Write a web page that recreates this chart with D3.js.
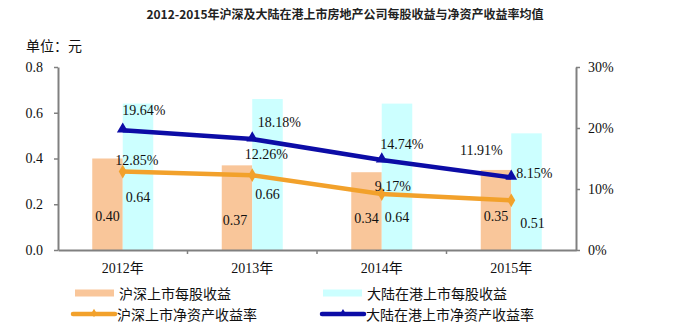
<!DOCTYPE html>
<html><head><meta charset="utf-8">
<script src="https://cdn.jsdelivr.net/npm/d3@7/dist/d3.min.js"></script>
<style>
html,body{margin:0;padding:0;background:#fff;}
svg{display:block;}
</style>
</head><body>
<svg id="chart" width="675" height="332"></svg>
<script>
// ---- data ----
const categories = ["2012年", "2013年", "2014年", "2015年"];
const hsEps = [0.40, 0.37, 0.34, 0.35];          // 沪深上市每股收益
const hkEps = [0.64, 0.66, 0.64, 0.51];          // 大陆在港上市每股收益
const hsRoe = [12.85, 12.26, 9.17, 8.15];        // 沪深上市净资产收益率 (%)
const hkRoe = [19.64, 18.18, 14.74, 11.91];      // 大陆在港上市净资产收益率 (%)
const leftTicks = [0, 0.2, 0.4, 0.6, 0.8];
const rightTicks = [0, 10, 20, 30];
const seriesNames = ["沪深上市每股收益", "大陆在港上市每股收益", "沪深上市净资产收益率", "大陆在港上市净资产收益率"];
const titleText = "2012-2015年沪深及大陆在港上市房地产公司每股收益与净资产收益率均值";
const unitText = "单位：元";

// ---- layout (label offsets, px) ----
const hkRoeLabelOff = [[21,-20],[27,-17],[20,-16],[-30,-27]];
const hsRoeLabelOff = [[14,-11],[14,-21],[11,-8],[23,-27]];
const hsEpsLabelOff = [[0,-34],[-2,-30],[0,-32],[0,-34]];
const hkEpsLabelOff = [[0,-53],[0,-56],[0,-33],[6,-27]];

const colors = {hsBar:"#F9C69A", hkBar:"#CCFFFF", hsLine:"#F2A12B", hkLine:"#0C0CA6", axis:"#808080"};
const serif = "'Liberation Serif','Times New Roman','Noto Sans CJK SC',serif";
const sans = "'Noto Sans CJK SC','Noto Sans',sans-serif";

const svg = d3.select("#chart");
const L = 58, R = 576, T = 67, B = 250;

const x = d3.scaleBand().domain(categories).range([L, R]).padding(0);
const yL = d3.scaleLinear().domain([0, 0.8]).range([B, T]);
const yR = d3.scaleLinear().domain([0, 30]).range([B, T]);
const barW = 30.5;
const cx = c => x(c) + x.bandwidth() / 2;

// title
svg.append("text").attr("x", 345).attr("y", 13).attr("text-anchor", "middle")
  .attr("dominant-baseline", "central").attr("font-family", sans).attr("font-weight", "bold")
  .attr("font-size", 12).attr("fill", "#222").text(titleText);
svg.append("text").attr("x", 26).attr("y", 45).attr("dominant-baseline", "central")
  .attr("font-family", sans).attr("font-size", 14).attr("fill", "#111").text(unitText);

// bars
svg.append("g").selectAll("rect").data(categories).join("rect")
  .attr("x", c => cx(c) - barW).attr("width", barW)
  .attr("y", (c, i) => yL(hsEps[i])).attr("height", (c, i) => B - yL(hsEps[i]))
  .attr("fill", colors.hsBar);
svg.append("g").selectAll("rect").data(categories).join("rect")
  .attr("x", c => cx(c)).attr("width", barW)
  .attr("y", (c, i) => yL(hkEps[i])).attr("height", (c, i) => B - yL(hkEps[i]))
  .attr("fill", colors.hkBar);

// axes
function styleAxis(g) {
  g.select(".domain").attr("stroke", colors.axis).attr("stroke-width", 2);
  g.selectAll(".tick line").attr("stroke", colors.axis).attr("stroke-width", 1.5);
  g.selectAll(".tick text").attr("font-family", serif).attr("font-size", 14).attr("fill", "#111");
}
svg.append("g").attr("transform", `translate(${L},0)`)
  .call(d3.axisLeft(yL).tickValues(leftTicks).tickFormat(d3.format(".1f")).tickSize(4).tickSizeOuter(0).tickPadding(11))
  .call(styleAxis);
svg.append("g").attr("transform", `translate(${R},0)`)
  .call(d3.axisRight(yR).tickValues(rightTicks).tickFormat(d => d + "%").tickSize(4).tickSizeOuter(0).tickPadding(8))
  .call(styleAxis);
const xg = svg.append("g").attr("transform", `translate(0,${B})`)
  .call(d3.axisBottom(x).tickSize(0).tickSizeOuter(0).tickPadding(10))
  .call(styleAxis);
xg.selectAll(".tick text").attr("dy", "0.9em");
// boundary ticks between categories
xg.selectAll("line.bound").data(categories.slice(1)).join("line").attr("class", "bound")
  .attr("x1", c => x(c)).attr("x2", c => x(c)).attr("y1", 0).attr("y2", 4)
  .attr("stroke", colors.axis).attr("stroke-width", 1.5);

// lines
const lineGen = (vals) => d3.line().x((d, i) => cx(categories[i])).y(d => yR(d))(vals);
svg.append("path").attr("d", lineGen(hsRoe)).attr("fill", "none").attr("stroke", colors.hsLine).attr("stroke-width", 4.5);
svg.append("path").attr("d", lineGen(hkRoe)).attr("fill", "none").attr("stroke", colors.hkLine).attr("stroke-width", 4.5);
const diamond = d3.symbol().type(d3.symbolDiamond2 || d3.symbolDiamond).size(50);
const tri = d3.symbol().type(d3.symbolTriangle).size(60);
svg.append("g").selectAll("path").data(hsRoe).join("path")
  .attr("transform", (d, i) => `translate(${cx(categories[i])},${yR(d)})`)
  .attr("d", d3.symbol().type(d3.symbolDiamond).size(55)).attr("fill", colors.hsLine);
svg.append("g").selectAll("path").data(hkRoe).join("path")
  .attr("transform", (d, i) => `translate(${cx(categories[i])},${yR(d) - 1})`)
  .attr("d", tri).attr("fill", colors.hkLine);

// data labels
function labels(vals, fmt, pos, off) {
  svg.append("g").selectAll("text").data(vals).join("text")
    .attr("x", (d, i) => pos(d, i)[0] + off[i][0])
    .attr("y", (d, i) => pos(d, i)[1] + off[i][1])
    .attr("text-anchor", "middle").attr("dominant-baseline", "central")
    .attr("font-family", serif).attr("font-size", 14).attr("fill", "#111")
    .text(fmt);
}
labels(hsEps, d => d.toFixed(2), (d, i) => [cx(categories[i]) - barW / 2, B], hsEpsLabelOff);
labels(hkEps, d => d.toFixed(2), (d, i) => [cx(categories[i]) + barW / 2, B], hkEpsLabelOff);
labels(hkRoe, d => d.toFixed(2) + "%", (d, i) => [cx(categories[i]), yR(d)], hkRoeLabelOff);
labels(hsRoe, d => d.toFixed(2) + "%", (d, i) => [cx(categories[i]), yR(d)], hsRoeLabelOff);

// legend
const leg = svg.append("g");
const legItems = [
  {name: seriesNames[0], x: 75, y: 293, type: "bar", color: colors.hsBar},
  {name: seriesNames[1], x: 323, y: 293, type: "bar", color: colors.hkBar},
  {name: seriesNames[2], x: 73, y: 314, type: "line", color: colors.hsLine, sym: d3.symbolDiamond},
  {name: seriesNames[3], x: 322, y: 314, type: "line", color: colors.hkLine, sym: d3.symbolTriangle}
];
legItems.forEach(it => {
  if (it.type === "bar") {
    leg.append("rect").attr("x", it.x).attr("y", it.y - 3.5).attr("width", 39).attr("height", 7).attr("fill", it.color);
  } else {
    leg.append("line").attr("x1", it.x).attr("x2", it.x + 42).attr("y1", it.y).attr("y2", it.y)
      .attr("stroke", it.color).attr("stroke-width", 4.5).attr("stroke-linecap", "round");
    leg.append("path").attr("transform", `translate(${it.x + 21},${it.y - 1})`)
      .attr("d", d3.symbol().type(it.sym).size(22)).attr("fill", it.color);
  }
  leg.append("text").attr("x", it.x + 44).attr("y", it.y).attr("dominant-baseline", "central")
    .attr("font-family", sans).attr("font-size", 14).attr("fill", "#111").text(it.name);
});
</script>
</body></html>
